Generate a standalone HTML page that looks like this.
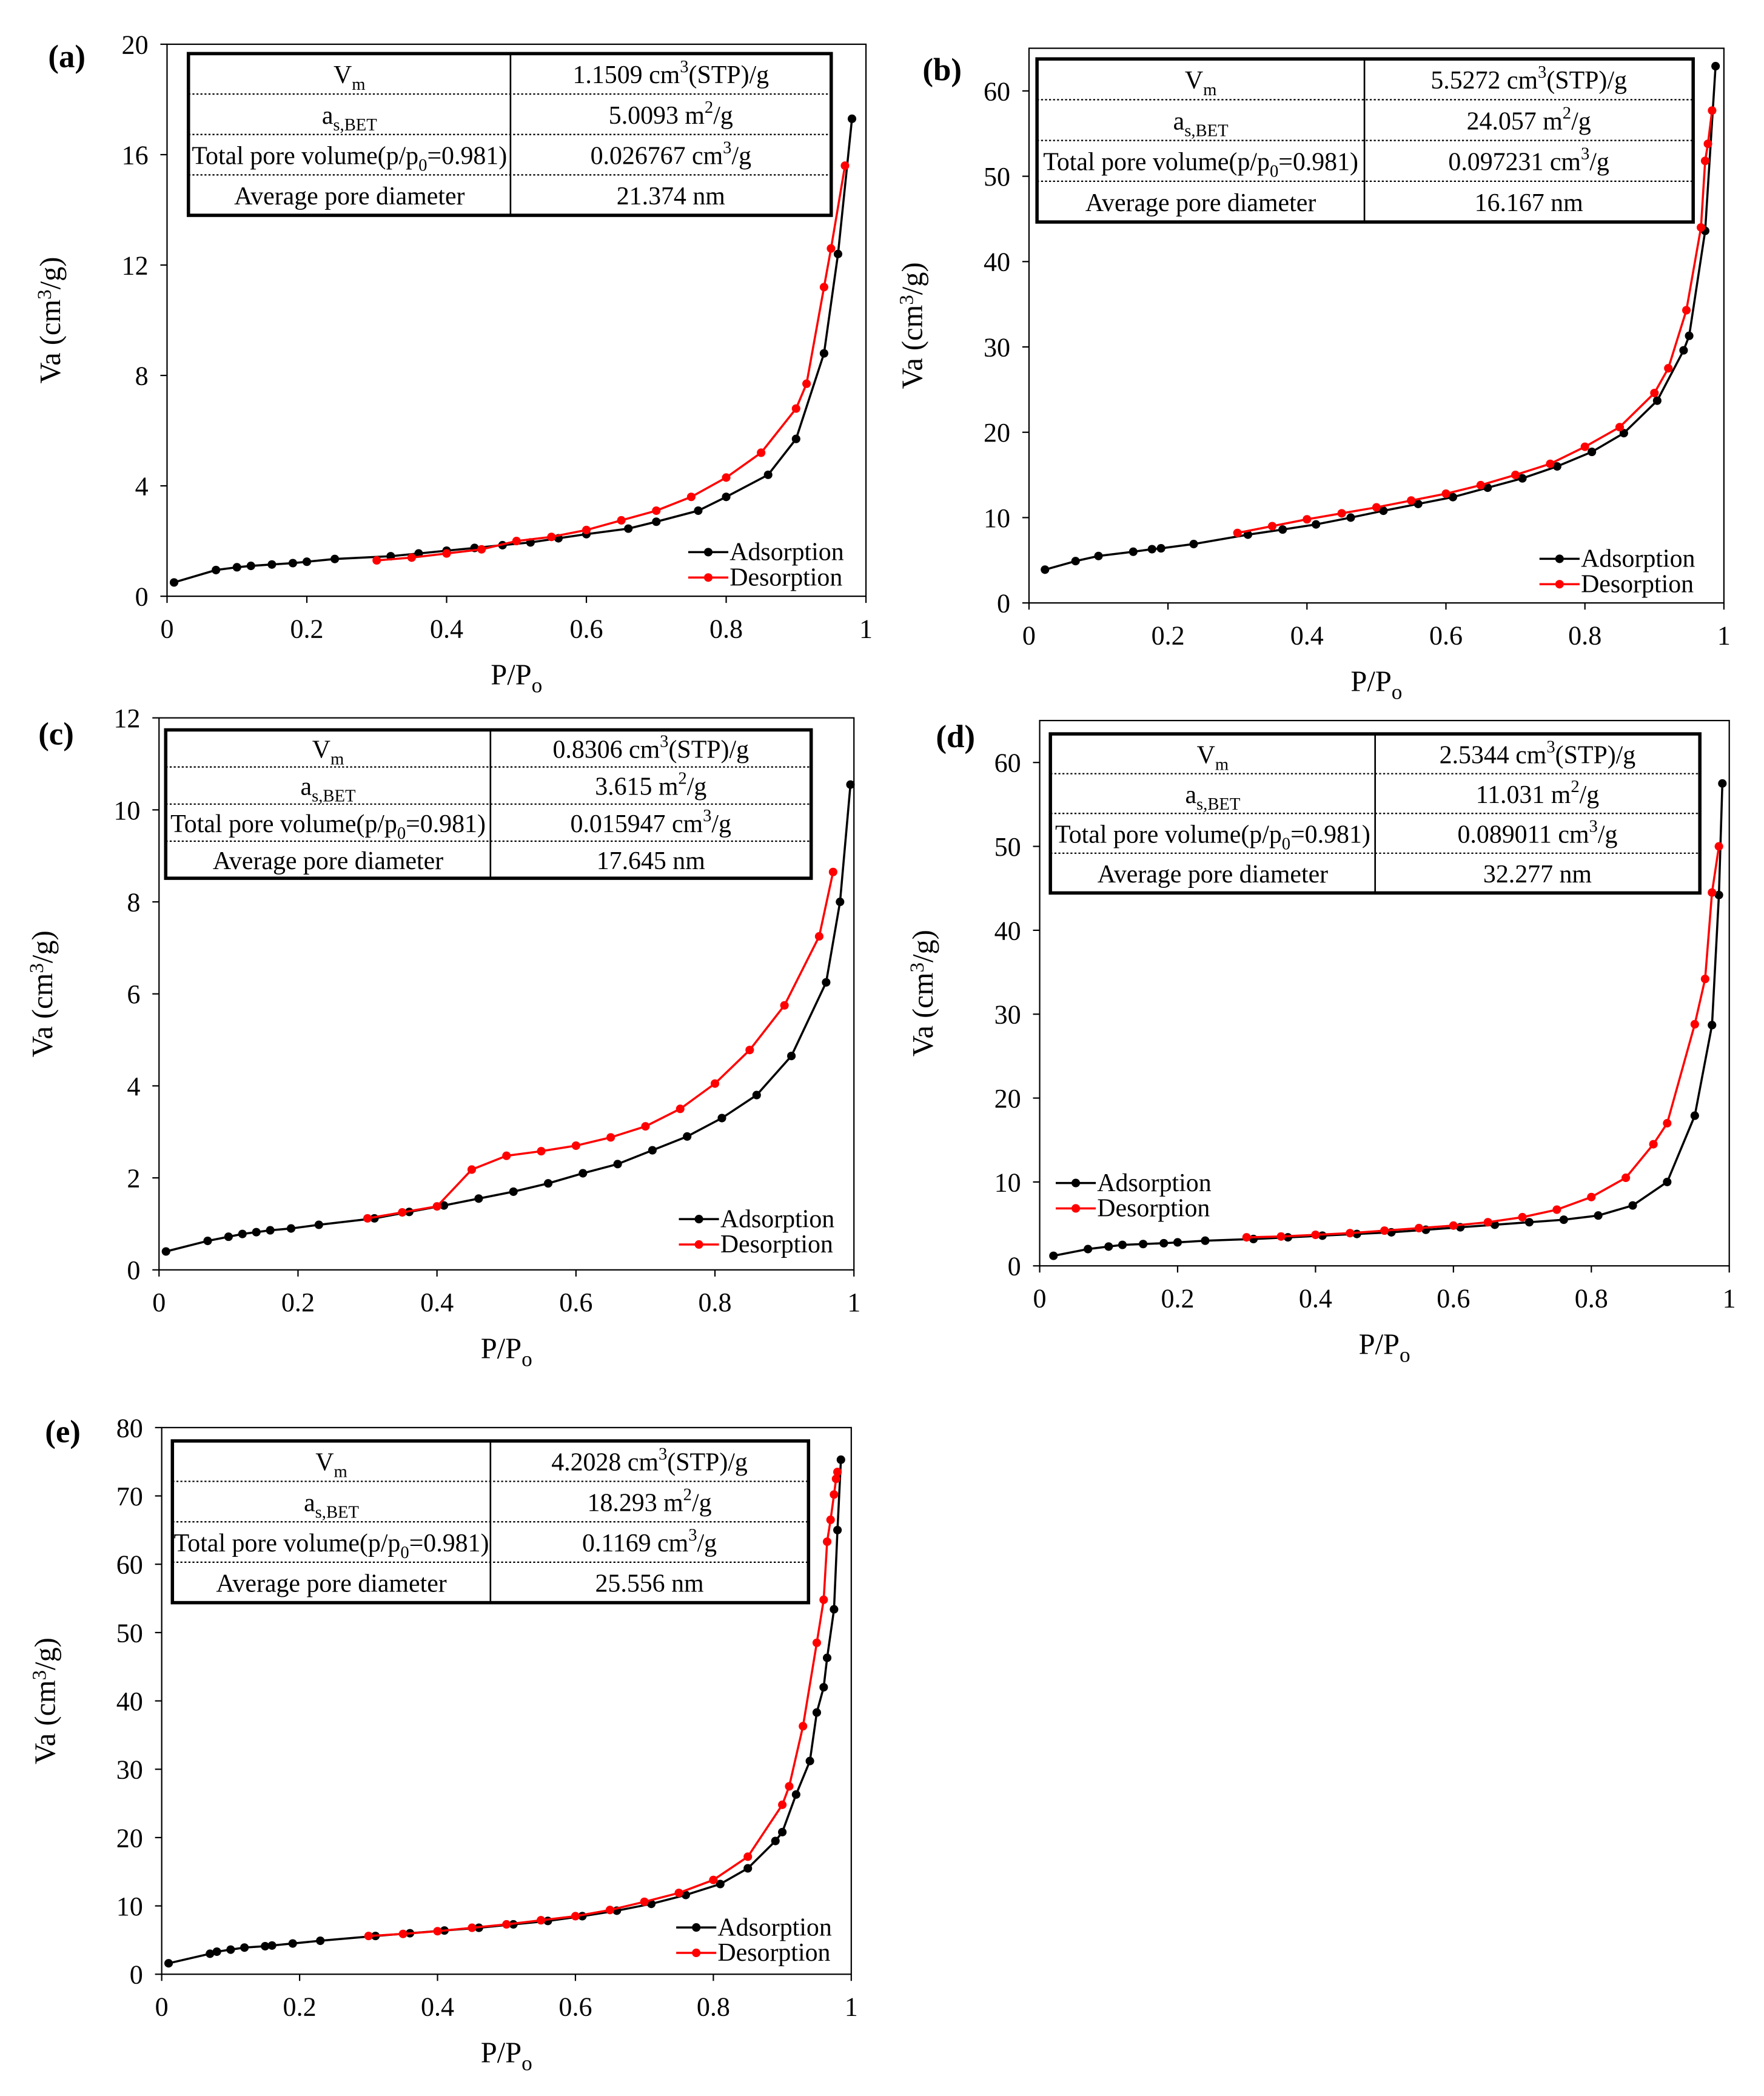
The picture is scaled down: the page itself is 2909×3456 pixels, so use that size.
<!DOCTYPE html>
<html><head><meta charset="utf-8">
<style>
html,body{margin:0;padding:0;background:#fff;}
svg{display:block;font-family:"Liberation Serif","Times New Roman",serif;}
</style></head>
<body>
<svg id="fig" xmlns="http://www.w3.org/2000/svg" width="2909" height="3456" viewBox="0 0 1320 1568" font-family="Liberation Serif, serif"></svg>
<script>
// ---- data ----
const aAdsX=[0.01,0.07,0.1,0.12,0.15,0.18,0.2,0.24,0.32,0.36,0.4,0.44,0.48,0.52,0.56,0.6,0.66,0.7,0.76,0.8,0.86,0.9,0.94,0.96,0.98];
const aAdsY=[0.5,0.95,1.05,1.1,1.15,1.2,1.25,1.35,1.45,1.55,1.65,1.75,1.85,1.95,2.1,2.25,2.45,2.7,3.1,3.6,4.4,5.7,8.8,12.4,17.3];
const aDesX=[0.3,0.35,0.4,0.45,0.5,0.55,0.6,0.65,0.7,0.75,0.8,0.85,0.9,0.915,0.94,0.95,0.97];
const aDesY=[1.3,1.4,1.55,1.7,2.0,2.15,2.4,2.75,3.1,3.6,4.3,5.2,6.8,7.7,11.2,12.6,15.6];
const bAdsX=[0.023,0.067,0.1,0.15,0.177,0.19,0.237,0.315,0.365,0.413,0.463,0.51,0.56,0.61,0.66,0.71,0.76,0.81,0.856,0.904,0.942,0.95,0.973,0.988];
const bAdsY=[3.9,4.9,5.5,6,6.3,6.4,6.9,8,8.6,9.2,10,10.8,11.6,12.4,13.5,14.6,16,17.7,19.9,23.7,29.6,31.3,43.6,62.9];
const bDesX=[0.3,0.35,0.4,0.45,0.5,0.55,0.6,0.65,0.7,0.75,0.8,0.85,0.9,0.92,0.946,0.967,0.973,0.977,0.983];
const bDesY=[8.2,9,9.8,10.5,11.2,12,12.8,13.8,15,16.3,18.3,20.6,24.6,27.5,34.3,44,51.8,53.8,57.7];
const cAdsX=[0.01,0.07,0.1,0.12,0.14,0.16,0.19,0.23,0.31,0.36,0.41,0.46,0.51,0.56,0.61,0.66,0.71,0.76,0.81,0.86,0.91,0.96,0.98,0.995];
const cAdsY=[0.4,0.63,0.72,0.78,0.82,0.86,0.9,0.98,1.12,1.26,1.4,1.55,1.7,1.88,2.1,2.3,2.6,2.9,3.3,3.8,4.65,6.25,8.0,10.55];
const cDesX=[0.3,0.35,0.4,0.45,0.5,0.55,0.6,0.65,0.7,0.75,0.8,0.85,0.9,0.95,0.97];
const cDesY=[1.12,1.25,1.38,2.18,2.48,2.58,2.7,2.88,3.12,3.5,4.05,4.78,5.75,7.25,8.65];
const dAdsX=[0.02,0.07,0.1,0.12,0.15,0.18,0.2,0.24,0.31,0.36,0.41,0.46,0.51,0.56,0.61,0.66,0.71,0.76,0.81,0.86,0.91,0.95,0.975,0.985,0.99];
const dAdsY=[1.2,2.0,2.3,2.5,2.6,2.7,2.8,3.0,3.2,3.4,3.6,3.8,4.0,4.3,4.6,4.9,5.2,5.5,6.0,7.2,10,17.9,28.7,44.2,57.5];
const dDesX=[0.3,0.35,0.4,0.45,0.5,0.55,0.6,0.65,0.7,0.75,0.8,0.85,0.89,0.91,0.95,0.965,0.975,0.985];
const dDesY=[3.4,3.5,3.7,3.9,4.2,4.5,4.8,5.2,5.8,6.7,8.2,10.5,14.5,17,28.8,34.2,44.5,50];
const eAdsX=[0.01,0.07,0.08,0.1,0.12,0.15,0.16,0.19,0.23,0.31,0.36,0.41,0.46,0.51,0.56,0.61,0.66,0.71,0.76,0.81,0.85,0.89,0.9,0.92,0.94,0.95,0.96,0.965,0.975,0.98,0.985];
const eAdsY=[1.6,3.0,3.3,3.6,3.9,4.1,4.2,4.5,4.9,5.6,6.0,6.4,6.8,7.3,7.8,8.5,9.3,10.3,11.6,13.2,15.5,19.5,20.8,26.3,31.2,38.3,42,46.3,53.4,65,75.3];
const eDesX=[0.3,0.35,0.4,0.45,0.5,0.55,0.6,0.65,0.7,0.75,0.8,0.85,0.9,0.91,0.93,0.95,0.96,0.965,0.97,0.975,0.978,0.98];
const eDesY=[5.6,5.9,6.3,6.8,7.3,7.9,8.5,9.4,10.6,11.9,13.8,17.2,24.8,27.5,36.3,48.5,54.8,63.3,66.5,70.2,72.5,73.5];
const xTicks=[0,0.2,0.4,0.6,0.8,1];
const xTickLabels=["0","0.2","0.4","0.6","0.8","1"];
const aYTicks=[0,4,8,12,16,20];
const bYTicks=[0,10,20,30,40,50,60];
const cYTicks=[0,2,4,6,8,10,12];
const dYTicks=[0,10,20,30,40,50,60];
const eYTicks=[0,10,20,30,40,50,60,70,80];
const aTable=["1.1509 cm|3|(STP)/g","5.0093 m|2|/g","0.026767 cm|3|/g","21.374 nm"];
const bTable=["5.5272 cm|3|(STP)/g","24.057 m|2|/g","0.097231 cm|3|/g","16.167 nm"];
const cTable=["0.8306 cm|3|(STP)/g","3.615 m|2|/g","0.015947 cm|3|/g","17.645 nm"];
const dTable=["2.5344 cm|3|(STP)/g","11.031 m|2|/g","0.089011 cm|3|/g","32.277 nm"];
const eTable=["4.2028 cm|3|(STP)/g","18.293 m|2|/g","0.1169 cm|3|/g","25.556 nm"];

const NS="http://www.w3.org/2000/svg";
const svg=document.getElementById('fig');
function mk(tag,attrs,parent){const e=document.createElementNS(NS,tag);for(const k in attrs)e.setAttribute(k,attrs[k]);(parent||svg).appendChild(e);return e;}
function txt(x,y,s,size,parent,anchor){const t=mk('text',{x:x,y:y,'font-size':size,'text-anchor':anchor||'middle',fill:'#000'},parent);t.textContent=s;return t;}
function sup(t,s,shift,size){const ts=document.createElementNS(NS,'tspan');ts.setAttribute('baseline-shift',shift);ts.setAttribute('font-size',size);ts.textContent=s;t.appendChild(ts);}
function plain(t,s){const ts=document.createElementNS(NS,'tspan');ts.textContent=s;t.appendChild(ts);}

function panel(p){
  const g=mk('g',{});
  
  
  const X=v=>p.x0+v*(p.x1-p.x0);
  const Y=v=>p.y0-v*(p.y0-p.yTop)/p.yMax;
  const fr=mk('rect',{x:p.x0,y:p.yTop,width:p.x1-p.x0,height:p.y0-p.yTop,fill:'none',stroke:'#000','stroke-width':1},g);
  
  
  p.yTicks.forEach(v=>{
    mk('line',{x1:p.x0-5,x2:p.x0,y1:Y(v),y2:Y(v),stroke:'#000'},g);
    const t=txt(p.x0-14,Y(v)+7,String(v),20,g,'end');
    
    
  });
  xTicks.forEach((v,i)=>{
    mk('line',{x1:X(v),x2:X(v),y1:p.y0,y2:p.y0+5,stroke:'#000'},g);
    const t=txt(X(v),p.y0+31,xTickLabels[i],20,g);
    
    
  });
  const xt=txt((p.x0+p.x1)/2,p.y0+66,'P/P',22,g);
  sup(xt,'o','-6',16);
  
  
  const yc=(p.y0+p.yTop)/2;
  const yt=mk('text',{x:0,y:0,'font-size':22,'text-anchor':'middle',transform:`translate(${p.x0-80},${yc}) rotate(-90)`},g);
  plain(yt,'Va (cm');sup(yt,'3','7',15);plain(yt,'/g)');
  
  
  const lb=txt(p.lx,p.ly,'('+p.id+')',24,g);
  lb.setAttribute('font-weight','bold');
  
  
  [[p.adsX,p.adsY,'#000','adsorption'],[p.desX,p.desY,'#ff0000','desorption']].forEach(([xs,ys,c,nm])=>{
    const pts=xs.map((x,i)=>X(x)+','+Y(ys[i])).join(' ');
    const pl=mk('polyline',{points:pts,fill:'none',stroke:c,'stroke-width':1.6},g);
    
    
    xs.forEach((x,i)=>{
      const cc=mk('circle',{cx:X(x),cy:Y(ys[i]),r:3.2,fill:c},g);
      
      
    });
  });
  const T=p.tab, tg=mk('g',{},g);
  
  
  mk('rect',{x:T.x,y:T.y,width:T.w,height:T.h,fill:'#fff',stroke:'#000','stroke-width':2.5},tg);
  mk('line',{x1:T.s,x2:T.s,y1:T.y,y2:T.y+T.h,stroke:'#000','stroke-width':1.2},tg);
  const rh=T.h/4;
  for(let i=1;i<4;i++)mk('line',{x1:T.x,x2:T.x+T.w,y1:T.y+rh*i,y2:T.y+rh*i,stroke:'#000','stroke-width':1,'stroke-dasharray':'1.5,1.5'},tg);
  const lc=(T.x+T.s)/2, vc=(T.s+T.x+T.w)/2;
  for(let i=0;i<4;i++){
    const yy=T.y+rh*i+rh/2+7;
    const l=mk('text',{x:lc,y:yy,'font-size':19,'text-anchor':'middle'},tg);
    if(i==0){plain(l,'V');sup(l,'m','-5',13);}
    else if(i==1){plain(l,'a');sup(l,'s,BET','-5',13);}
    else if(i==2){plain(l,'Total pore volume(p/p');sup(l,'0','-5',13);plain(l,'=0.981)');}
    else plain(l,'Average pore diameter');
    const parts=p.table[i].split('|');
    const v=mk('text',{x:vc,y:yy,'font-size':19,'text-anchor':'middle'},tg);
    plain(v,parts[0]);
    if(parts.length>1){sup(v,parts[1],'8',13);plain(v,parts[2]);}
  }
  const L=mk('g',{},g);
  
  
  [['Adsorption','#000',0],['Desorption','#ff0000',19]].forEach(([s,c,dy])=>{
    const yy=p.leg.y+dy;
    mk('line',{x1:p.leg.x,x2:p.leg.x+30,y1:yy,y2:yy,stroke:c,'stroke-width':1.6},L);
    mk('circle',{cx:p.leg.x+15,cy:yy,r:3.2,fill:c},L);
    const t=txt(p.leg.x+31,yy+6,s,19,L,'start');
    
    
  });
}

panel({id:'a',x0:125,x1:648,y0:446,yTop:33,yMax:20,yTicks:aYTicks,adsX:aAdsX,adsY:aAdsY,desX:aDesX,desY:aDesY,table:aTable,tab:{x:141,y:40,w:481,h:121,s:382},leg:{x:515,y:413},lx:50,ly:50});
panel({id:'b',x0:770,x1:1290,y0:451,yTop:36,yMax:65,yTicks:bYTicks,adsX:bAdsX,adsY:bAdsY,desX:bDesX,desY:bDesY,table:bTable,tab:{x:776,y:44,w:491,h:122,s:1021},leg:{x:1152,y:418},lx:705,ly:60});
panel({id:'c',x0:119,x1:639,y0:950,yTop:537,yMax:12,yTicks:cYTicks,adsX:cAdsX,adsY:cAdsY,desX:cDesX,desY:cDesY,table:cTable,tab:{x:124,y:546,w:483,h:111,s:367},leg:{x:508,y:912},lx:42,ly:557});
panel({id:'d',x0:778,x1:1294,y0:947,yTop:539,yMax:65,yTicks:dYTicks,adsX:dAdsX,adsY:dAdsY,desX:dDesX,desY:dDesY,table:dTable,tab:{x:786,y:549,w:486,h:119,s:1029},leg:{x:790,y:885},lx:715,ly:559});
panel({id:'e',x0:121,x1:637,y0:1477,yTop:1068,yMax:80,yTicks:eYTicks,adsX:eAdsX,adsY:eAdsY,desX:eDesX,desY:eDesY,table:eTable,tab:{x:129,y:1078,w:476,h:121,s:367},leg:{x:506,y:1442},lx:47,ly:1079});
</script>
</body></html>
